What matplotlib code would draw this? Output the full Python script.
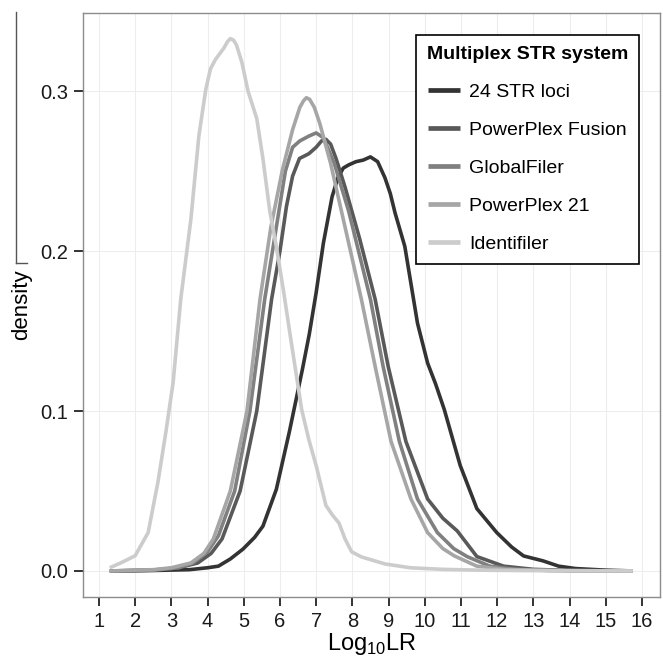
import matplotlib
matplotlib.use('Agg')
import matplotlib.pyplot as plt
from matplotlib.lines import Line2D

plt.rcParams['font.family'] = ['Liberation Sans', 'DejaVu Sans']
plt.rcParams['mathtext.fontset'] = 'custom'
plt.rcParams['mathtext.rm'] = 'Liberation Sans'

# Density curves (Log10LR, density)
str24_x = [1.3, 2.5, 3.5, 4.0, 4.3, 4.63, 4.98, 5.3, 5.53, 5.9, 6.26, 6.62, 6.81, 7.0, 7.2,
           7.44, 7.6, 7.75, 7.9, 8.1, 8.3, 8.5, 8.7, 8.9, 9.05, 9.18, 9.45, 9.8, 10.08, 10.3,
           10.54, 10.98, 11.44, 11.99, 12.4, 12.73, 13.27, 13.7, 14.17, 15.0, 15.75]
str24_y = [0.0, 0.0003, 0.0008, 0.002, 0.003, 0.0075, 0.0137, 0.021, 0.028, 0.051, 0.087,
           0.126, 0.148, 0.174, 0.205, 0.234, 0.246, 0.252, 0.254, 0.256, 0.257, 0.259, 0.256,
           0.246, 0.236, 0.224, 0.203, 0.155, 0.13, 0.117, 0.101, 0.066, 0.039, 0.024, 0.015,
           0.0094, 0.0063, 0.003, 0.0015, 0.0005, 0.0]

fusion_x = [1.3, 2.5, 3.2, 3.73, 4.1, 4.4, 4.9, 5.36, 5.77, 6.0, 6.18, 6.35, 6.54, 6.8, 7.0,
            7.15, 7.27, 7.4, 7.55, 7.8, 8.2, 8.63, 8.99, 9.48, 10.08, 10.5, 10.9, 11.44, 12.18,
            13.0, 14.0, 15.75]
fusion_y = [0.0, 0.0005, 0.002, 0.005, 0.011, 0.02, 0.05, 0.10, 0.17, 0.20, 0.228, 0.247,
            0.258, 0.261, 0.265, 0.269, 0.27, 0.267, 0.258, 0.24, 0.208, 0.17, 0.128, 0.081,
            0.045, 0.033, 0.025, 0.009, 0.003, 0.001, 0.0003, 0.0]

global_x = [1.3, 2.5, 3.2, 3.6, 4.0, 4.3, 4.75, 5.17, 5.58, 5.9, 6.15, 6.35, 6.55, 6.8, 7.0,
            7.2, 7.5, 7.9, 8.5, 8.85, 9.3, 9.8, 10.35, 10.8, 11.17, 11.8, 12.5, 13.5, 15.75]
global_y = [0.0, 0.0005, 0.002, 0.005, 0.012, 0.022, 0.05, 0.10, 0.17, 0.215, 0.25, 0.265,
            0.269, 0.272, 0.274, 0.271, 0.255, 0.225, 0.17, 0.128, 0.081, 0.045, 0.024, 0.014,
            0.009, 0.003, 0.001, 0.0003, 0.0]

pp21_x = [1.3, 2.5, 3.0, 3.54, 3.9, 4.16, 4.63, 5.09, 5.45, 5.75, 6.07, 6.35, 6.55, 6.65,
          6.73, 6.82, 6.95, 7.1, 7.4, 7.8, 8.25, 8.63, 9.07, 9.62, 10.08, 10.5, 10.82, 11.44,
          12.2, 13.5, 15.75]
pp21_y = [0.0, 0.0008, 0.002, 0.005, 0.011, 0.02, 0.05, 0.10, 0.17, 0.215, 0.251, 0.276,
          0.29, 0.294, 0.296, 0.295, 0.29, 0.28, 0.255, 0.215, 0.17, 0.128, 0.081, 0.045,
          0.024, 0.014, 0.0094, 0.003, 0.001, 0.0003, 0.0]

ident_x = [1.3, 1.6, 2.0, 2.36, 2.63, 2.85, 3.05, 3.26, 3.54, 3.76, 3.95, 4.08, 4.22, 4.45,
           4.55, 4.63, 4.72, 4.8, 4.95, 5.12, 5.36, 5.53, 5.72, 5.9, 6.1, 6.3, 6.6, 6.8, 7.0,
           7.27, 7.45, 7.63, 7.8, 7.98, 8.25, 8.9, 9.6, 10.5, 11.5, 13.0, 15.75]
ident_y = [0.002, 0.005, 0.0095, 0.024, 0.0556, 0.087, 0.118, 0.17, 0.22, 0.272, 0.301,
           0.314, 0.32, 0.327, 0.331, 0.333, 0.332, 0.329, 0.318, 0.30, 0.283, 0.258, 0.225,
           0.203, 0.175, 0.145, 0.101, 0.082, 0.066, 0.041, 0.035, 0.030, 0.020, 0.012,
           0.0088, 0.0044, 0.002, 0.001, 0.0005, 0.0002, 0.0]

series_names = ['24 STR loci', 'PowerPlex Fusion', 'GlobalFiler', 'PowerPlex 21', 'Identifiler']
series_x = [str24_x, fusion_x, global_x, pp21_x, ident_x]
series_y = [str24_y, fusion_y, global_y, pp21_y, ident_y]
series_colors = ['#333333', '#595959', '#808080', '#a6a6a6', '#cccccc']

x_ticks = list(range(1, 17))
y_ticks = [0.0, 0.1, 0.2, 0.3]

fig = plt.figure(figsize=(6.63, 6.57), dpi=100)
ax = fig.add_axes([0.1252, 0.0913, 0.8703, 0.8889])

for name, xs, ys, col in zip(series_names, series_x, series_y, series_colors):
    ax.plot(xs, ys, color=col, lw=2.6, label=name, solid_capstyle='butt',
            solid_joinstyle='round')

ax.set_xlim(0.56, 16.5)
ax.set_ylim(-0.0163, 0.349)
ax.set_xticks(x_ticks)
ax.set_yticks(y_ticks)
ax.set_yticklabels(['0.0', '0.1', '0.2', '0.3'])
ax.grid(True, color='#ededed', lw=0.8)
ax.set_axisbelow(True)
for sp in ax.spines.values():
    sp.set_color('#8c8c8c')
    sp.set_linewidth(1.0)
ax.tick_params(direction='out', length=6.5, width=1.4, color='#333333',
               labelsize=14.5, labelcolor='#1a1a1a', pad=4)

ax.set_xlabel(r'Log$_{10}$LR', fontsize=17, labelpad=0)
ax.set_ylabel('density', fontsize=16, labelpad=6)

leg = ax.legend(title='Multiplex STR system', loc='upper right',
                bbox_to_anchor=(0.9636, 0.9623), borderaxespad=0,
                fontsize=14, title_fontproperties={'weight': 'bold', 'size': 14},
                handlelength=1.6, handletextpad=0.5, labelspacing=1.05,
                borderpad=0.55, fancybox=False, framealpha=1)
leg.get_frame().set_edgecolor('black')
leg.get_frame().set_linewidth(1.2)
for h in leg.legend_handles:
    h.set_linewidth(3.4)

# stray bracket line at the left edge of the figure
fig.add_artist(Line2D([16 / 663, 16 / 663], [1 - 12 / 657, 1 - 263 / 657],
                      transform=fig.transFigure, color='#555555', lw=1.0))
fig.add_artist(Line2D([16 / 663, 27 / 663], [1 - 263 / 657, 1 - 263 / 657],
                      transform=fig.transFigure, color='#555555', lw=1.0))

fig.savefig('out.png', dpi=100)
